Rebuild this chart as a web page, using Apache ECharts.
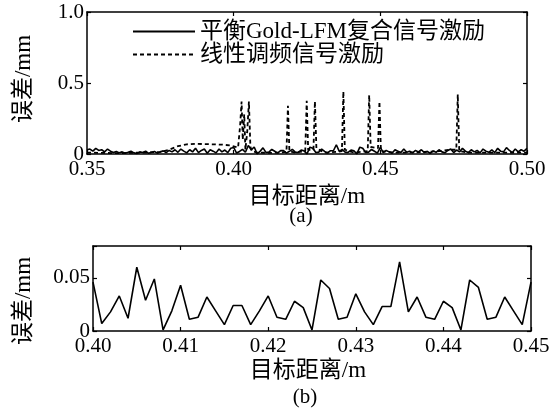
<!DOCTYPE html>
<html><head><meta charset="utf-8">
<script src="https://cdn.jsdelivr.net/npm/echarts@6/dist/echarts.min.js"></script>
<style>html,body{margin:0;padding:0;background:#fff}#c{width:555px;height:412px}</style>
</head><body><div id="c"></div>
<script>
// ---- data ----
const seriesNames = ['平衡Gold-LFM复合信号激励', '线性调频信号激励'];
const xStart = 0.35, xStep = 0.001;
// balanced Gold-LFM error, 0.350..0.399
const solidLeft = [0.030,0.035,0.020,0.040,0.025,0.030,0.015,0.035,0.020,0.010,
  0.018,0.008,0.015,0.005,0.012,0.020,0.008,0.003,0.015,0.010,
  0.020,0.005,0.012,0.018,0.006,0.015,0.022,0.010,0.025,0.015,
  0.030,0.012,0.035,0.020,0.008,0.030,0.015,0.040,0.010,0.025,
  0.035,0.005,0.030,0.020,0.008,0.035,0.015,0.028,0.010,0.040];
// 0.400..0.450 (also panel b)
const solidZoom = [0.046,0.007,0.018,0.033,0.012,0.060,0.029,0.049,0.001,0.019,
  0.043,0.011,0.013,0.032,0.019,0.006,0.024,0.024,0.006,0.019,
  0.033,0.013,0.011,0.028,0.022,0.001,0.048,0.040,0.011,0.013,
  0.035,0.018,0.006,0.023,0.023,0.065,0.018,0.032,0.013,0.011,
  0.028,0.022,0.001,0.048,0.041,0.011,0.013,0.032,0.019,0.006,0.046];
// 0.451..0.500
const solidRight = [0.010,0.025,0.015,0.005,0.030,0.020,0.010,0.035,0.012,0.020,
  0.008,0.025,0.015,0.030,0.010,0.018,0.005,0.022,0.012,0.030,
  0.015,0.008,0.025,0.035,0.010,0.028,0.015,0.040,0.020,0.010,
  0.030,0.015,0.025,0.008,0.035,0.020,0.012,0.030,0.010,0.040,
  0.020,0.015,0.045,0.025,0.010,0.035,0.015,0.030,0.020,0.040];
// LFM error
const dashX = [0.350,0.355,0.360,0.365,0.370,0.375,0.378,0.381,0.384,0.387,0.390,0.393,0.396,0.399,
  0.4015,0.4022,0.4027,0.4031,0.4036,0.4040,0.4046,0.4052,0.4057,0.4062,
  0.408,0.412,0.416,0.418,0.4185,0.4190,0.421,
  0.4244,0.4249,0.4254,0.4272,0.4277,0.4282,0.431,0.435,
  0.4369,0.4374,0.4379,0.441,0.4457,0.4462,0.4467,0.4492,0.4497,0.4502,
  0.455,0.460,0.465,0.470,0.4735,0.4759,0.4764,0.4769,0.480,0.490,0.500];
const dashY = [0.010,0.008,0.006,0.008,0.010,0.015,0.030,0.055,0.068,0.072,0.070,0.068,0.066,0.060,
  0.045,0.20,0.37,0.10,0.28,0.03,0.15,0.37,0.05,0.02,
  0.010,0.008,0.010,0.015,0.34,0.02,0.010,
  0.02,0.375,0.03,0.03,0.37,0.04,0.010,0.015,
  0.02,0.44,0.03,0.010,0.02,0.415,0.05,0.04,0.37,0.02,
  0.010,0.010,0.015,0.020,0.030,0.03,0.42,0.02,0.010,0.010,0.010];
const topXLabels = [0.35, 0.40, 0.45, 0.50];
const topYLabels = [0, 0.5, 1.0];
const botXLabels = [0.40, 0.41, 0.42, 0.43, 0.44, 0.45];
const botYLabels = [0, 0.05];

// ---- build ----
const solidAll = solidLeft.concat(solidZoom, solidRight);
const solidData = solidAll.map((v, i) => [+(xStart + i * xStep).toFixed(4), v]);
const dashData = dashX.map((x, i) => [x, dashY[i]]);
const zoomData = solidZoom.map((v, i) => [+(0.40 + i * xStep).toFixed(4), v]);

const F = "'Liberation Serif','Noto Sans CJK SC',serif";
const black = '#000';
const lineW = 1.5;
function near(v, arr) { return arr.some(a => Math.abs(a - v) < 1e-9); }

function mainX(grid, min, max, interval, labels, fmt) {
  return {
    type: 'value', gridIndex: grid, min, max, interval, position: 'bottom',
    axisLine: {show: true, onZero: false, lineStyle: {color: black, width: lineW}},
    axisTick: {show: true, inside: true, length: 4, lineStyle: {color: black, width: 1.2}},
    axisLabel: {color: black, fontFamily: F, fontSize: 21, margin: 5,
      formatter: v => near(v, labels) ? fmt(v) : ''},
    splitLine: {show: false}
  };
}
function mainY(grid, min, max, interval, labels, fmt) {
  return {
    type: 'value', gridIndex: grid, min, max, interval, position: 'left',
    axisLine: {show: true, onZero: false, lineStyle: {color: black, width: lineW}},
    axisTick: {show: true, inside: true, length: 4, lineStyle: {color: black, width: 1.2}},
    axisLabel: {color: black, fontFamily: F, fontSize: 21, margin: 3,
      showMaxLabel: true, formatter: v => near(v, labels) ? fmt(v) : ''},
    splitLine: {show: false}
  };
}
function boxX(grid, min, max, interval) {
  return {type: 'value', gridIndex: grid, min, max, interval, position: 'top',
    axisLine: {show: true, onZero: false, lineStyle: {color: black, width: lineW}},
    axisTick: {show: true, inside: true, length: 4, lineStyle: {color: black, width: 1.2}},
    axisLabel: {show: false}, splitLine: {show: false}};
}
function boxY(grid, min, max, interval) {
  return {type: 'value', gridIndex: grid, min, max, interval, position: 'right',
    axisLine: {show: true, onZero: false, lineStyle: {color: black, width: lineW}},
    axisTick: {show: true, inside: true, length: 4, lineStyle: {color: black, width: 1.2}},
    axisLabel: {show: false}, splitLine: {show: false}};
}

const chart = echarts.init(document.getElementById('c'), null, {renderer: 'canvas'});
chart.setOption({
  animation: false,
  backgroundColor: '#fff',
  grid: [
    {left: 87, top: 12, width: 440, height: 142},
    {left: 93, top: 246, width: 438, height: 85}
  ],
  xAxis: [
    mainX(0, 0.35, 0.50, 0.05, topXLabels, v => v.toFixed(2)),
    boxX(0, 0.35, 0.50, 0.05),
    mainX(1, 0.40, 0.45, 0.01, botXLabels, v => v.toFixed(2)),
    boxX(1, 0.40, 0.45, 0.01)
  ],
  yAxis: [
    mainY(0, 0, 1, 0.5, topYLabels, v => v === 0 ? '0' : v.toFixed(1)),
    boxY(0, 0, 1, 0.5),
    mainY(1, 0, 0.08, 0.05, botYLabels, v => v === 0 ? '0' : v.toFixed(2)),
    boxY(1, 0, 0.08, 0.05)
  ],
  legend: {
    data: seriesNames, orient: 'vertical', left: 127, top: 15,
    itemWidth: 62, itemHeight: 12, itemGap: 0,
    itemStyle: {opacity: 0},
    textStyle: {fontFamily: F, fontSize: 23, color: black, padding: [0, 0, 0, 0]},
    selectedMode: false
  },
  series: [
    {name: seriesNames[0], type: 'line', xAxisIndex: 0, yAxisIndex: 0, data: solidData,
      symbol: 'none', lineStyle: {color: black, width: 1.6}, itemStyle: {color: black}, z: 3},
    {name: seriesNames[1], type: 'line', xAxisIndex: 0, yAxisIndex: 0, data: dashData,
      symbol: 'none', lineStyle: {color: black, width: 1.8, type: [4, 3]}, itemStyle: {color: black}, z: 2},
    {name: 'zoom', type: 'line', xAxisIndex: 2, yAxisIndex: 2, data: zoomData,
      symbol: 'none', lineStyle: {color: black, width: 1.6}, itemStyle: {color: black}}
  ],
  graphic: [
    {type: 'text', x: 24, y: 79, rotation: Math.PI / 2,
      style: {text: '误差/mm', fontFamily: F, fontSize: 23, fill: black, align: 'center', verticalAlign: 'middle'}},
    {type: 'text', x: 307, y: 197,
      style: {text: '目标距离/m', fontFamily: F, fontSize: 23, fill: black, align: 'center', verticalAlign: 'middle'}},
    {type: 'text', x: 301, y: 216,
      style: {text: '(a)', fontFamily: F, fontSize: 21, fill: black, align: 'center', verticalAlign: 'middle'}},
    {type: 'text', x: 24, y: 301, rotation: Math.PI / 2,
      style: {text: '误差/mm', fontFamily: F, fontSize: 23, fill: black, align: 'center', verticalAlign: 'middle'}},
    {type: 'text', x: 308, y: 371,
      style: {text: '目标距离/m', fontFamily: F, fontSize: 23, fill: black, align: 'center', verticalAlign: 'middle'}},
    {type: 'text', x: 305, y: 397,
      style: {text: '(b)', fontFamily: F, fontSize: 21, fill: black, align: 'center', verticalAlign: 'middle'}}
  ]
});
</script>
</body></html>
